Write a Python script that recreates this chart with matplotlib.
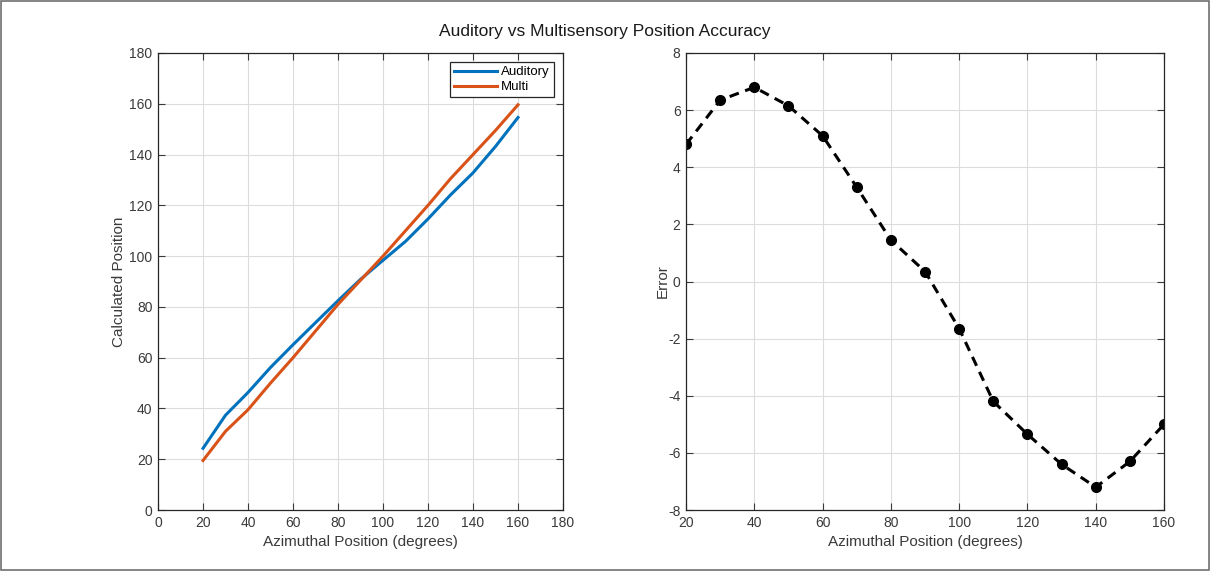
import matplotlib
matplotlib.use("Agg")
import matplotlib.pyplot as plt
from matplotlib.patches import Rectangle

plt.rcParams['font.family'] = ['Liberation Sans', 'DejaVu Sans']
plt.rcParams['axes.unicode_minus'] = False

azimuth = [20, 30, 40, 50, 60, 70, 80, 90, 100, 110, 120, 130, 140, 150, 160]
auditory = [24.3, 37.35, 46.3, 56.15, 65.1, 73.8, 82.45, 90.85, 98.35, 105.8,
            114.65, 124.1, 132.8, 143.2, 154.6]
multi = [19.5, 31.0, 39.5, 50.0, 60.0, 70.5, 81.0, 90.5, 100.0, 110.0,
         120.0, 130.5, 140.0, 149.5, 159.6]
error = [4.8, 6.35, 6.8, 6.15, 5.1, 3.3, 1.45, 0.35, -1.65, -4.2,
         -5.35, -6.4, -7.2, -6.3, -5.0]

blue = '#0072BD'
orange = '#D95319'
txt = '#3a3a3a'
grid_c = '#dcdcdc'

fig = plt.figure(figsize=(12.1, 5.71), dpi=100)
fig.patches.append(Rectangle((0.001, 0.002), 0.998, 0.996, transform=fig.transFigure,
                             fill=False, edgecolor='#707070', linewidth=1.2))

ax1 = fig.add_axes([0.1306, 0.1068, 0.3347, 0.8004])
ax2 = fig.add_axes([0.567, 0.1068, 0.395, 0.8004])

ax1.plot(azimuth, auditory, color=blue, linewidth=2.2, label='Auditory')
ax1.plot(azimuth, multi, color=orange, linewidth=2.2, label='Multi')
ax1.set_xlim(0, 180)
ax1.set_ylim(0, 180)
ax1.set_xticks(range(0, 181, 20))
ax1.set_yticks(range(0, 181, 20))
ax1.set_xlabel('Azimuthal Position (degrees)', fontsize=11, color=txt)
ax1.set_ylabel('Calculated Position', fontsize=11, color=txt, labelpad=2)
leg = ax1.legend(loc='upper right', fontsize=9.5, frameon=True, fancybox=False,
                 handlelength=3.3, handletextpad=0.3, borderpad=0.3,
                 labelspacing=0.2, borderaxespad=0.7)
leg.get_frame().set_edgecolor('#262626')
leg.get_frame().set_linewidth(0.9)
leg.get_frame().set_alpha(1)

ax2.plot(azimuth, error, color='black', linestyle=(0, (3.2, 2.2)), linewidth=2.2,
         marker='o', markersize=7)
ax2.set_xlim(20, 160)
ax2.set_ylim(-8, 8)
ax2.set_xticks(range(20, 161, 20))
ax2.set_yticks(range(-8, 9, 2))
ax2.set_xlabel('Azimuthal Position (degrees)', fontsize=11, color=txt)
ax2.set_ylabel('Error', fontsize=11, color=txt, labelpad=-1)

for ax in (ax1, ax2):
    ax.grid(True, color=grid_c, linewidth=0.8)
    ax.set_axisbelow(True)
    ax.tick_params(direction='in', top=True, right=True, length=5, width=0.8,
                   labelsize=10, colors=txt, pad=4)
    for s in ax.spines.values():
        s.set_color('#262626')
        s.set_linewidth(0.9)

fig.text(0.5, 0.945, 'Auditory vs Multisensory Position Accuracy', ha='center',
         va='center', fontsize=12.5, color='#1a1a1a')

fig.savefig('out.png', dpi=100)
